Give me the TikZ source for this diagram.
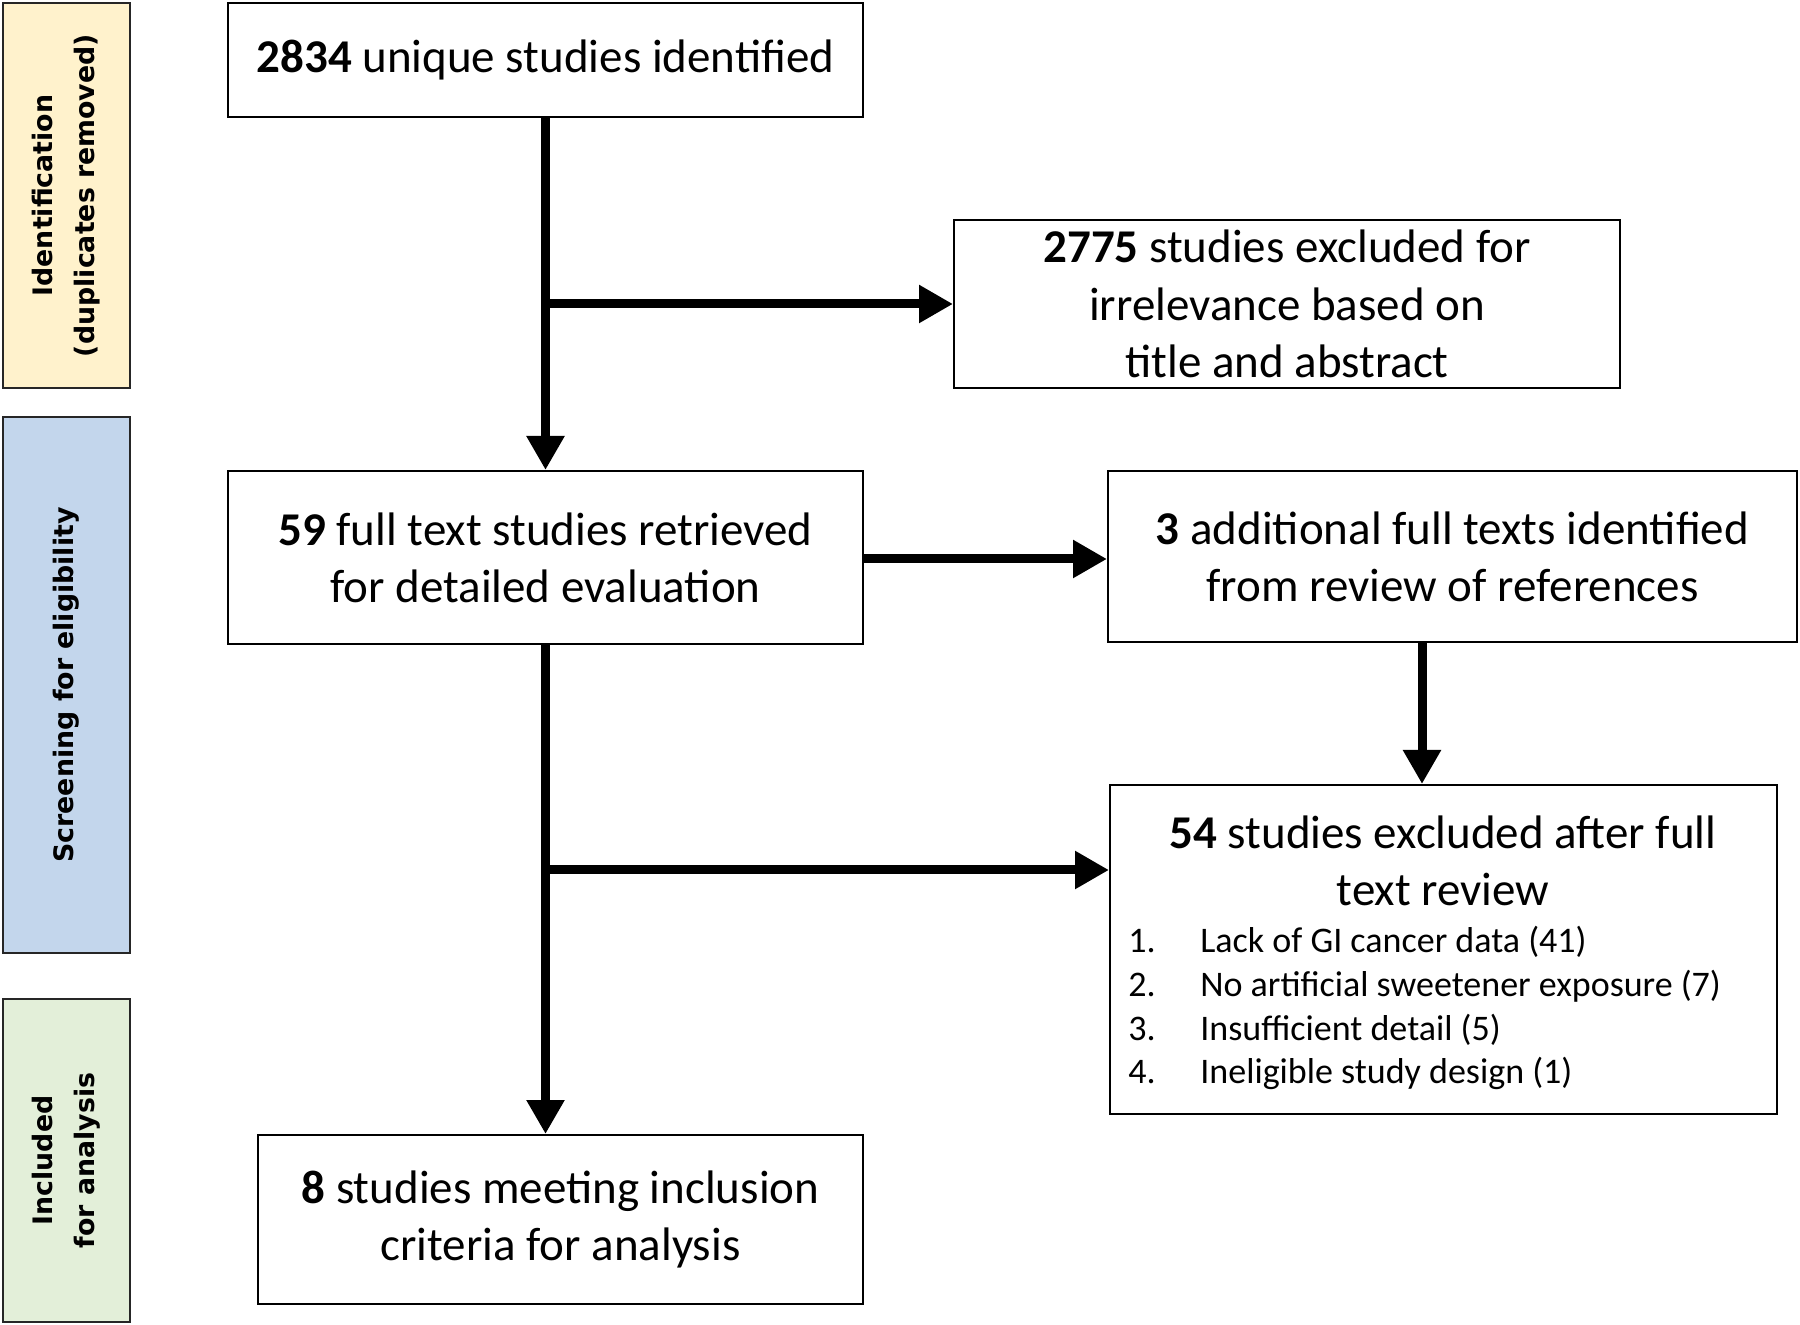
\documentclass[tikz,border=0pt]{standalone}
\usepackage{fontspec}
\setmainfont{Carlito}
\newfontfamily\sidefont{DejaVu Sans}
\usetikzlibrary{arrows.meta}
\definecolor{idy}{HTML}{FFF2CC}
\definecolor{scb}{HTML}{C3D6EC}
\definecolor{ing}{HTML}{E3EFD9}
\begin{document}
\begin{tikzpicture}[x=0.5pt,y=-0.5pt,
  box/.style={draw=black, line width=1pt, fill=white, align=center, inner sep=0pt,
    font=\fontsize{23.5}{28.6}\selectfont},
  side/.style={draw=black!85, line width=1.3pt, inner sep=0pt, rotate=90, align=center,
    font=\sidefont\bfseries\fontsize{13.4}{21}\selectfont},
  arr/.style={line width=4.5pt, -{Triangle[length=17pt,width=18pt]}},
  conn/.style={line width=4.5pt}]
\useasboundingbox (0,0) rectangle (1800,1325);
% side labels
\node[side, fill=idy, minimum width=192.5pt, minimum height=63.5pt] (sid) at (66.5,195.5)
  {Identification\\(duplicates removed)};
\node[side, fill=scb, minimum width=268pt, minimum height=63.5pt] (sscr) at (66.5,685)
  {Screening for eligibility};
\node[side, fill=ing, minimum width=161.5pt, minimum height=63.5pt] (sinc) at (66.5,1160.5)
  {Included\\for analysis};
% boxes
\node[box, minimum width=317.5pt, minimum height=57pt] (A) at (545.5,60)
  {\textbf{2834} unique studies identified};
\node[box, minimum width=333pt, minimum height=84pt] (B) at (1287,304)
  {\textbf{2775} studies excluded for\\irrelevance based on\\title and abstract};
\node[box, minimum width=317.5pt, minimum height=86.5pt] (C) at (545.5,557.5)
  {\textbf{59} full text studies retrieved\\for detailed evaluation};
\node[box, minimum width=344.5pt, minimum height=85.5pt] (D) at (1452.5,556.5)
  {\textbf{3} additional full texts identified\\from review of references};
\node[box, minimum width=333.5pt, minimum height=164.5pt] (E) at (1443.5,949.5) {};
\node[align=center, inner sep=0pt, font=\fontsize{23.5}{28.6}\selectfont] (Etitle) at (1443,861)
  {\textbf{54} studies excluded after full\\text review};
\node[anchor=base west, inner sep=0pt, font=\fontsize{18}{22}\selectfont] (Elist) at (1128,952)
  {\fontsize{18}{22}\selectfont\begin{tabular}[t]{@{}p{36pt}@{}l@{}}
  1. & Lack of GI cancer data (41)\\
  2. & No artificial sweetener exposure (7)\\
  3. & Insufficient detail (5)\\
  4. & Ineligible study design (1)
  \end{tabular}};
\node[box, minimum width=302.5pt, minimum height=84.5pt] (F) at (560.5,1219.5)
  {\textbf{8} studies meeting inclusion\\criteria for analysis};
% connectors
\coordinate (dx) at (1422,0);
\coordinate (ey) at (0,870);
\draw[arr] (A.south) -- (C.north);
\draw[arr] (A.south |- B.west) -- (B.west);
\draw[arr] (C.east |- 0,559) -- (D.west |- 0,559);
\draw[arr] (D.south -| dx) -- (E.north -| dx);
\draw[arr] (C.south) -- (C.south |- F.north);
\draw[arr] (C.south |- ey) -- (ey -| E.west);
\end{tikzpicture}
\end{document}
